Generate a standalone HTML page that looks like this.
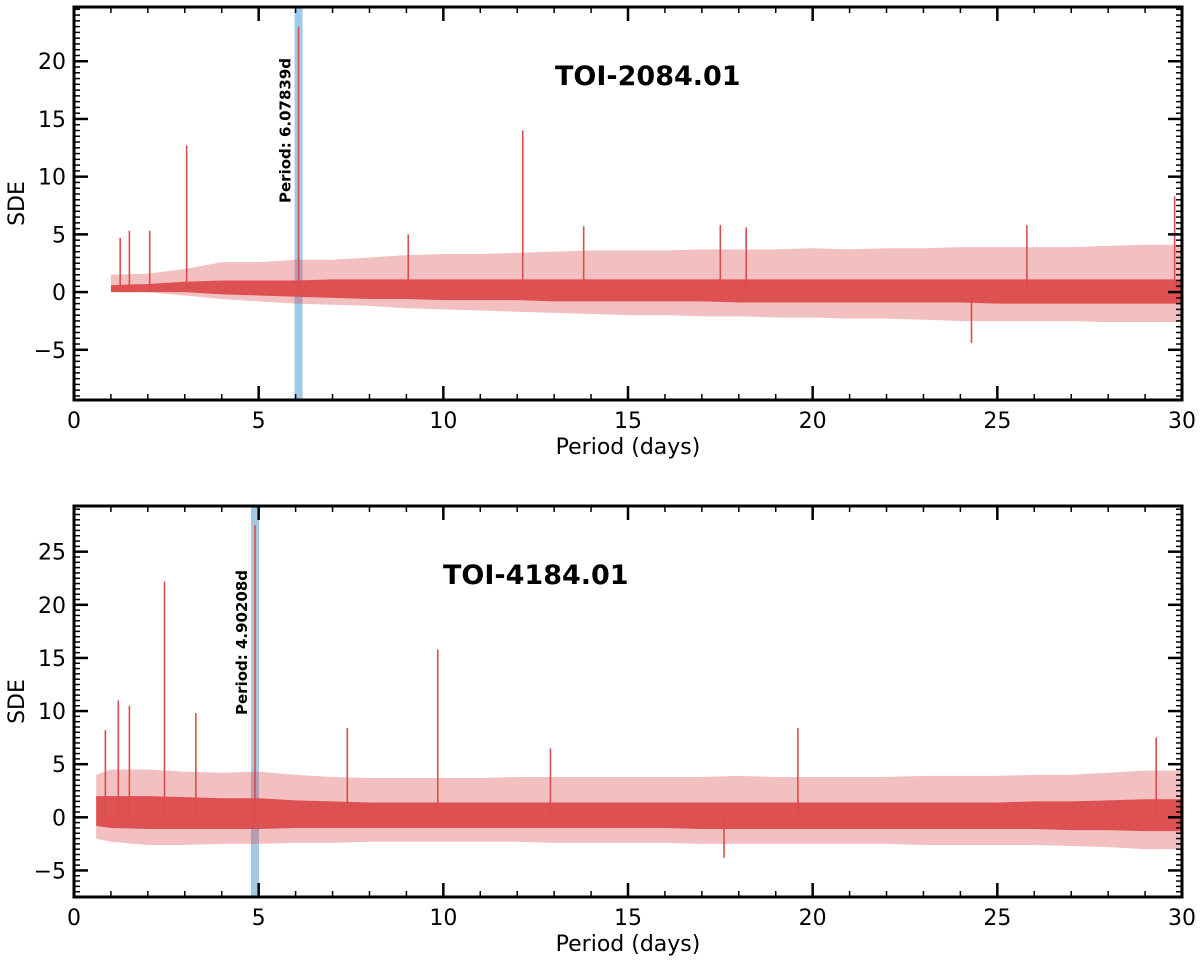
<!DOCTYPE html>
<html><head><meta charset="utf-8"><style>
body{margin:0;background:#fff;}
svg text{font-family:"DejaVu Sans","Liberation Sans",sans-serif;}
</style></head><body>
<svg id="chart" width="1200" height="962" viewBox="0 0 1200 962" xmlns="http://www.w3.org/2000/svg"></svg>
<script>
// ---- Panel 1 data (TOI-2084.01) ----
const p1Periods = [1,2,3,4,5,6,7,8,9,10,11,12,13,14,15,16,17,18,19,20,21,22,23,24,25,26,27,28,29,30];
const p1Upper = [1.5,1.6,2.0,2.6,2.6,2.8,2.8,3.0,3.2,3.3,3.3,3.4,3.5,3.6,3.6,3.6,3.7,3.7,3.7,3.8,3.7,3.8,3.8,3.9,3.9,3.9,3.9,4.0,4.1,4.1];
const p1Lower = [0,0,-0.3,-0.6,-0.8,-1.0,-1.1,-1.2,-1.4,-1.5,-1.6,-1.7,-1.8,-1.9,-2.0,-2.0,-2.1,-2.1,-2.2,-2.2,-2.3,-2.3,-2.4,-2.5,-2.5,-2.5,-2.5,-2.6,-2.6,-2.6];
const p1CoreUp = [0.6,0.7,0.9,1.0,1.0,1.0,1.1,1.1,1.1,1.1,1.1,1.1,1.1,1.1,1.1,1.1,1.1,1.1,1.1,1.1,1.1,1.1,1.1,1.1,1.1,1.1,1.1,1.1,1.1,1.1];
const p1CoreLo = [0,0,0,-0.2,-0.3,-0.4,-0.5,-0.6,-0.6,-0.7,-0.7,-0.7,-0.8,-0.8,-0.8,-0.8,-0.8,-0.9,-0.9,-0.9,-0.9,-0.9,-0.9,-0.9,-1.0,-1.0,-1.0,-1.0,-1.0,-1.0];
const p1SpikeP = [1.25,1.5,2.05,3.05,6.08,9.05,12.15,13.8,17.5,18.2,25.8,29.8,24.3];
const p1SpikeV = [4.7,5.3,5.3,12.7,23.0,5.0,14.0,5.7,5.8,5.6,5.8,8.3,-4.4];
// ---- Panel 2 data (TOI-4184.01) ----
const p2Periods = [0.6,1,2,3,4,5,6,7,8,9,10,11,12,13,14,15,16,17,18,19,20,21,22,23,24,25,26,27,28,29,30];
const p2Upper = [4.0,4.5,4.5,4.3,4.2,4.3,4.0,3.8,3.7,3.7,3.7,3.7,3.8,3.8,3.8,3.8,3.8,3.8,3.9,3.8,3.8,3.8,3.8,3.9,3.9,3.9,4.0,4.0,4.2,4.4,4.4];
const p2Lower = [-2.0,-2.3,-2.6,-2.6,-2.5,-2.5,-2.4,-2.4,-2.3,-2.3,-2.3,-2.3,-2.3,-2.4,-2.4,-2.4,-2.4,-2.5,-2.5,-2.5,-2.5,-2.5,-2.5,-2.6,-2.6,-2.6,-2.6,-2.7,-2.8,-3.0,-3.0];
const p2CoreUp = [2.0,2.0,2.0,1.9,1.8,1.8,1.6,1.5,1.4,1.4,1.4,1.4,1.4,1.4,1.4,1.4,1.4,1.4,1.4,1.4,1.4,1.4,1.4,1.4,1.4,1.4,1.5,1.5,1.6,1.7,1.7];
const p2CoreLo = [-0.8,-1.0,-1.1,-1.1,-1.1,-1.1,-1.0,-1.0,-1.0,-1.0,-1.0,-1.0,-1.0,-1.0,-1.0,-1.0,-1.0,-1.1,-1.1,-1.1,-1.1,-1.1,-1.1,-1.1,-1.1,-1.1,-1.1,-1.2,-1.2,-1.3,-1.3];
const p2SpikeP = [0.85,1.2,1.5,2.45,3.3,4.9,7.4,9.85,12.9,19.6,29.3,17.6];
const p2SpikeV = [8.2,11.0,10.5,22.2,9.8,27.5,8.4,15.8,6.5,8.4,7.5,-3.8];

const NS="http://www.w3.org/2000/svg";
const svg=document.getElementById('chart');
function el(t,a,p){const e=document.createElementNS(NS,t);for(const k in a)e.setAttribute(k,a[k]);(p||svg).appendChild(e);return e;}

function panel(cfg){
  const g=el('g',{});
  
  
  const L=74,R=1182,T=cfg.top,B=cfg.bottom;
  const xs=p=>L+(p/30)*(R-L);
  const ys=v=>T+(cfg.ymax-v)/(cfg.ymax-cfg.ymin)*(B-T);
  const band=el('rect',{x:xs(cfg.bandP)-4,y:T,width:8,height:B-T,fill:'#8fc1e3',opacity:0.85},g);
  
  
  function area(up,lo,op,name){
    let pts=[];
    cfg.per.forEach((p,i)=>pts.push(xs(p)+','+ys(up[i])));
    for(let i=cfg.per.length-1;i>=0;i--)pts.push(xs(cfg.per[i])+','+ys(lo[i]));
    const poly=el('polygon',{points:pts.join(' '),fill:'#dc4b4d',opacity:op},g);
    
    
  }
  area(cfg.up,cfg.lo,0.35,'sde-noise-envelope');
  area(cfg.cu,cfg.cl,0.95,'sde-noise-core');
  cfg.sp.forEach((p,i)=>{
    const l=el('line',{x1:xs(p),x2:xs(p),y1:ys(0),y2:ys(cfg.sv[i]),stroke:'#dc4b4d','stroke-width':1.6},g);
    
    
  });
  const fr=el('rect',{x:L,y:T,width:R-L,height:B-T,fill:'none',stroke:'#000','stroke-width':3},g);
  
  
  for(let p=0;p<=30;p++){
    const maj=p%5===0,len=maj?14:6;
    el('line',{x1:xs(p),x2:xs(p),y1:B,y2:B-len,stroke:'#000','stroke-width':maj?2.5:1.5},g);
    el('line',{x1:xs(p),x2:xs(p),y1:T,y2:T+len,stroke:'#000','stroke-width':maj?2.5:1.5},g);
    if(maj){const t=el('text',{x:xs(p),y:B+28,'text-anchor':'middle','font-size':22},g);t.textContent=p;
      }
  }
  for(let v=Math.ceil(cfg.ymin*2)/2;v<=cfg.ymax;v+=0.5){
    const maj=Math.abs(v%5)<1e-9,len=maj?14:6;
    el('line',{x1:L,x2:L+len,y1:ys(v),y2:ys(v),stroke:'#000','stroke-width':maj?2.5:1.5},g);
    el('line',{x1:R,x2:R-len,y1:ys(v),y2:ys(v),stroke:'#000','stroke-width':maj?2.5:1.5},g);
    if(maj){const t=el('text',{x:L-8,y:ys(v)+8,'text-anchor':'end','font-size':22},g);t.textContent=v<0?'\u2212'+(-v):v;
      }
  }
  const xl=el('text',{x:(L+R)/2,y:B+54,'text-anchor':'middle','font-size':22},g);xl.textContent='Period (days)';
  
  const yl=el('text',{x:0,y:0,'text-anchor':'middle','font-size':22,transform:`translate(24,${(T+B)/2}) rotate(-90)`},g);yl.textContent='SDE';
  
  const ti=el('text',{x:cfg.titleX,y:cfg.titleY,'font-size':27,'font-weight':'bold'},g);ti.textContent=cfg.title;
  
  const pl=el('text',{x:0,y:0,'font-size':15,'font-weight':'bold',transform:`translate(${xs(cfg.bandP)-8},${cfg.labY}) rotate(-90)`},g);pl.textContent=cfg.label;
  
}
panel({name:'panel-toi-2084',top:7,bottom:400,ymin:-9.35,ymax:24.7,per:p1Periods,up:p1Upper,lo:p1Lower,cu:p1CoreUp,cl:p1CoreLo,sp:p1SpikeP,sv:p1SpikeV,bandP:6.08,title:'TOI-2084.01',titleX:555,titleY:85,label:'Period: 6.07839d',labY:203});
panel({name:'panel-toi-4184',top:506,bottom:897,ymin:-7.5,ymax:29.3,per:p2Periods,up:p2Upper,lo:p2Lower,cu:p2CoreUp,cl:p2CoreLo,sp:p2SpikeP,sv:p2SpikeV,bandP:4.9,title:'TOI-4184.01',titleX:443,titleY:584,label:'Period: 4.90208d',labY:715});
</script>
</body></html>
